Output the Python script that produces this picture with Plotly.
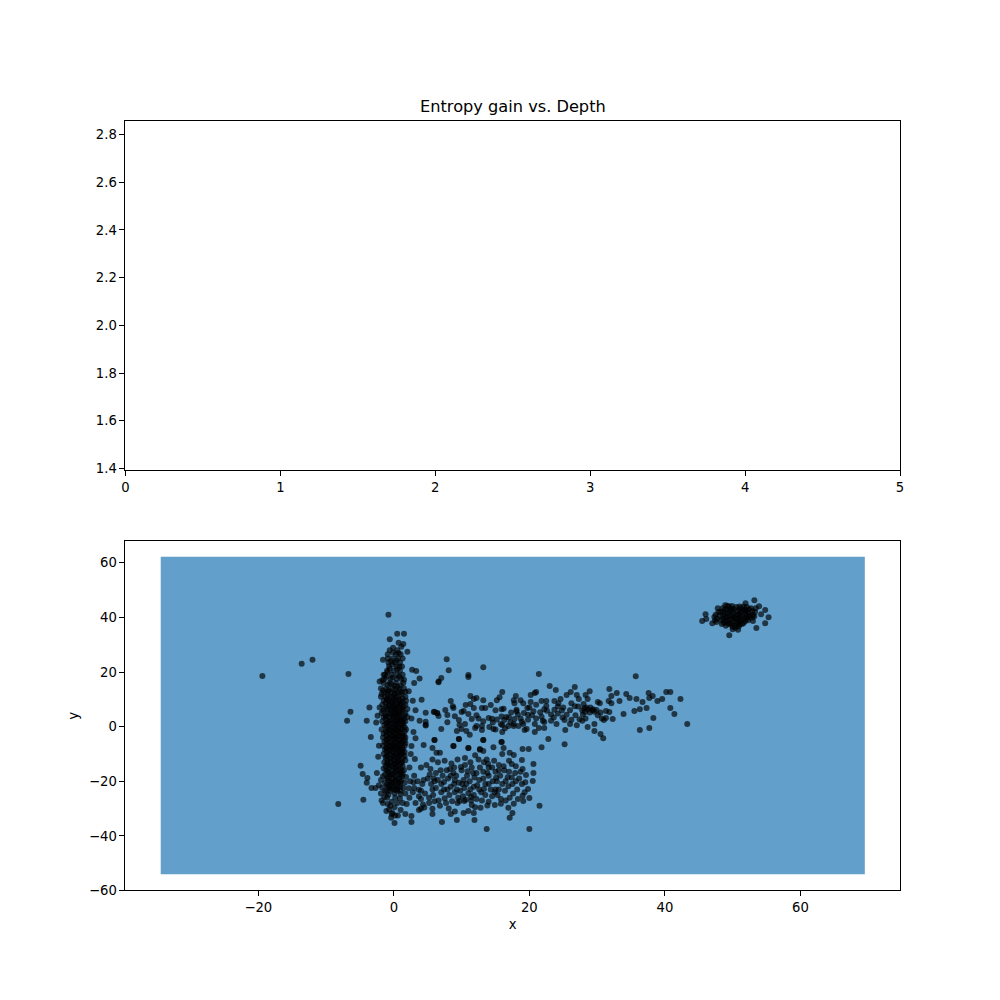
import plotly.graph_objects as go

title = "Entropy gain vs. Depth"
top_xticks = [0, 1, 2, 3, 4, 5]
top_yticks = [1.4, 1.6, 1.8, 2.0, 2.2, 2.4, 2.6, 2.8]
bot_xticks = [-20, 0, 20, 40, 60]
bot_yticks = [-60, -40, -20, 0, 20, 40, 60]
region_x = [-34.4, 69.5]
region_y = [-54.1, 62.2]

outliers = [(-19.4,18.6),(-13.6,23),(-12,24.5),(-6.7,19.3),(-0.8,41),(0.5,34),(1.5,34),(-0.6,32),(0.7,30.7),(1.4,30.3),
(1.1,29.3),(-0.1,28.9),(2,27.4),(-1.6,24.5),(2.7,20.8),(3.3,20.4),(3.8,17.6),(3,16),(4.1,9.9),(4.7,5.1),(6,5.5),(6.4,4.9),
(-6.4,5.5),(-6.9,2.2),(-3.6,7),(-4,2.2),(-2.4,4),(-2.6,1.5),(3.8,2.2),(4.7,1.8),(4.7,0.7),(6.6,16.5),(-2.1,16.5),(-1.5,19),
(-0.9,20),(-1.9,14),(-1.9,11),(2.2,13),(2.8,9.5),(3.2,6),(2.6,3),(-2.1,7),(-3.4,-3.8),(-4.9,-14.3),(-4.6,-17.3),(-3.9,-18.8),
(-4,-20.5),(-3.3,-22.5),(-2.7,-22.5),(-4.5,-26.8),(-8.2,-28.3),(3.2,-4.2),(2.6,-7.1),(3.1,-11.8),(4.7,0.4),(2.9,-2),(2.3,-15),
(-2.5,-17),(-2.3,-11),(-2.2,-7),(2.5,-10)]

column = [(-0.6,28),(0.5,28),(-0.9,26.5),(0.3,26.5),(1,26.5),(-0.9,25),(-0.2,25),(0.6,25),(1.3,25),(-0.8,23.5),(0.1,23.5),(0.9,23.5),
(-0.7,22),(0.4,22),(1.2,22),(-1,20.5),(0,20.5),(0.9,20.5),(-1.3,19),(-0.3,19),(0.5,19),(1.3,19),(-1.4,17.5),(-0.5,17.5),(0.4,17.5),(1.1,17.5),
(-1.5,16),(-0.6,16),(0.3,16),(1.4,16),(-1.1,14),(-0.2,14),(0.8,14),(1.5,14),(-1.4,12.5),(-0.5,12.5),(0.4,12.5),(1.2,12.5),
(-1.3,11),(-0.3,11),(0.6,11),(1.7,11),(-1.5,9.5),(-0.7,9.5),(0.2,9.5),(1,9.5),(1.8,9.5),(-1.7,8),(-0.8,8),(0,8),(0.9,8),(1.7,8),
(-1.4,6.5),(-0.5,6.5),(0.4,6.5),(1.3,6.5),(2,6.5),(-1.8,5),(-0.9,5),(0,5),(0.8,5),(1.7,5),(-1.5,3.5),(-0.6,3.5),(0.3,3.5),(1.2,3.5),(2,3.5),
(-1.7,2),(-0.8,2),(0.1,2),(0.9,2),(1.7,2),(-1.4,0.5),(-0.5,0.5),(0.4,0.5),(1.3,0.5),(-1.8,-1),(-0.8,-1),(0.1,-1),(1,-1),(1.8,-1),
(-1.5,-2.5),(-0.6,-2.5),(0.3,-2.5),(1.2,-2.5),(-1.6,-4),(-0.7,-4),(0.2,-4),(1.1,-4),(1.7,-4),(-1.4,-5.5),(-0.5,-5.5),(0.4,-5.5),(1.3,-5.5),
(-1.6,-7),(-0.8,-7),(0.1,-7),(0.9,-7),(1.6,-7),(-1.3,-8.5),(-0.4,-8.5),(0.5,-8.5),(1.3,-8.5),(-1.5,-10),(-0.6,-10),(0.2,-10),(1.1,-10),
(-1.2,-11.5),(-0.3,-11.5),(0.6,-11.5),(1.4,-11.5),(-1.4,-13),(-0.5,-13),(0.3,-13),(1.2,-13),(-1.2,-14.5),(-0.3,-14.5),(0.6,-14.5),(1.3,-14.5),
(-1.1,-16),(-0.2,-16),(0.7,-16),(1.5,-16),(-1.3,-17.5),(-0.4,-17.5),(0.5,-17.5),(1.3,-17.5),(-1,-19),(-0.1,-19),(0.8,-19),(-1.9,-19.5),
(-1.3,-20.5),(-0.3,-20.5),(0.6,-20.5),(1.6,-20.5),(-0.9,-22),(0,-22),(0.9,-22),(-2.2,-21.5),(-0.5,-23.5),(0.5,-23.5),(-1.3,-23.5),
(-1.6,-28),(-1.1,-30.9),(-0.9,-28.3),(0.2,-26),(1,-24.7),(0.1,-29.5),(-0.2,-31.6),(-0.3,-32),(0.6,-32.5),(0.1,-35.3),(-0.4,-33.4),(1.7,-32),(2.6,-32.7),(2.6,-34.9),
(1.3,-28),(1.9,-28.3),(0.2,-32.5),(-1,-26),(-0.3,-27.5),(1.7,-24.5),(2.3,-26),(2.8,-24),(3.2,-28),(3.7,-25.5),(4,-23.5)]

column_fill = [(-0.1,27.2),(0.7,27),(-0.4,24),(0.4,24.2),(-0.2,22.8),(0.8,22),(-0.6,21.2),(0.5,21),(-1.1,18.3),(-0.2,18),(0.8,18.4),(-1.7,17),(1.5,17.2),(-0.9,15.3),(0.1,15),(1,15.2),(-1.6,13.2),(-0.7,13.3),(0.2,13.6),(1.7,12.8),(-1.8,12),(-0.9,11.8),(0.1,11.9),(1,11.7),
(-1,10.3),(0,10.2),(1.3,10.3),(-1.2,8.8),(-0.3,8.7),(0.5,8.8),(1.3,8.9),(-1.1,7.3),(-0.2,7.2),(0.6,7.3),(1.4,7.4),(-1.6,5.8),(-0.4,5.9),(0.3,5.8),(1.2,5.9),(-1.2,4.2),(-0.2,4.2),(0.7,4.3),(1.6,4.2),(-1.2,2.8),(-0.2,2.7),(0.6,2.8),(1.5,2.8),
(-1.1,1.2),(-0.2,1.2),(0.6,1.3),(1.4,1.3),(-1.1,-0.3),(-0.2,-0.2),(0.7,-0.3),(1.6,-0.2),(-1.2,-1.8),(-0.2,-1.7),(0.7,-1.8),(1.6,-1.8),(-1.1,-3.3),(-0.2,-3.2),(0.7,-3.3),(1.5,-3.3),(-1.1,-4.8),(-0.1,-4.7),(0.8,-4.8),(1.6,-5),
(-1.1,-6.2),(-0.2,-6.3),(0.7,-6.3),(1.7,-6.1),(-1.1,-7.8),(-0.2,-7.7),(0.6,-7.8),(1.3,-7.8),(-1,-9.2),(-0.1,-9.3),(0.8,-9.2),(1.6,-9.3),(-1.1,-10.8),(-0.1,-10.7),(0.7,-10.8),(1.6,-10.7),(-0.9,-12.2),(0,-12.3),(0.9,-12.2),(1.7,-12.3),
(-0.9,-13.8),(0,-13.7),(0.9,-13.8),(-1.5,-15.3),(-0.7,-15.3),(0.2,-15.2),(1,-15.3),(-0.8,-16.8),(0.1,-16.7),(1,-16.8),(-1.6,-18.2),(-0.6,-18.2),(0.2,-18.3),(1.2,-18.2),(-0.7,-19.8),(0.2,-19.8),(1.1,-19.8),(-1,-21.2),(0,-21.2),(0.9,-21.3),(-0.3,-22.8),(0.5,-22.8),(-1.7,-22.4),(1.4,-22.5),
(-1.9,-24.5),(-0.8,-24.9),(0.1,-24.4),(0.9,-26.3),(-1.4,-25.8),(-0.5,-29),(0.5,-28),(1,-30.5),(-1.8,-27),(-0.7,-30.3)]

column_core = [(-0.4,15.6),(0.5,14.7),(-0.9,13),(0.1,12.2),(0.9,13),(-0.6,11),(0.3,10.6),(-1,9.8),(0.7,9.8),(-0.3,9.2),(0.9,8.4),(-0.7,7.7),(0.2,7.5),(1,6.9),(-0.9,6.2),(0.1,6.4),(0.9,5.4),(-0.5,4.7),(0.4,4.7),(-1.1,3.7),(0,3.9),(0.9,3.2),(-0.5,2.3),(0.4,2.2),(1.2,2.2),(-0.9,1.4),(0.2,0.9),(1,0.8),(-0.7,-0.1),(0.2,-0.6),(1.1,-0.6),(-0.6,-1.4),(0.4,-1.4),(-1,-2.2),(0,-2.2),(0.9,-2.2),(-0.4,-3.6),(0.5,-3.6),(1.3,-3.6),(-0.9,-4.4),(0.1,-4.3),(0.9,-5.2),(-0.7,-5.9),(0.2,-6),(1.1,-6),(-0.5,-7.3),(0.4,-7.3),(-1,-8),(0,-8),(0.9,-8.1),(-0.6,-9),(0.4,-9.6),(1.3,-9.6),(-0.9,-10.4),(0.1,-11),(0.9,-10.4),(-0.5,-12),(0.6,-12.6),(-1,-13.4),(0.2,-13.6),(1.1,-13.3),(-0.6,-14.2),(0.3,-14.9),(-0.9,-16.4),(0.4,-16.2),(1.2,-16.4),(-0.2,-17.4),(0.9,-17.9),(-0.9,-18.6),(0.3,-19.4),(-0.4,-20.2),(0.9,-20.2),(-0.6,-21.6),(0.4,-21.7),(-0.7,-22.6),(0.2,-23.1),(1,-23.5),(-1.1,-24)]

lower_band = [(3.7,-30.5),(4,-30.1),(4.5,-29.6),(5.7,-30.1),(5.7,-32),(7.1,-34.9),(8.4,-32),(9,-31.1),(9.3,-34.2),(10.3,-31.6),(11,-30.9),(11.8,-31.6),
(11.9,-34.2),(13.7,-37.5),(20,-37.5),(17.1,-33.4),(17.5,-31.6),(21.5,-29),(20,-26.1),(19,-25.3),(19.1,-27.2),(17.7,-28.2),(16.9,-29.7),(15.8,-28.2),
(14.9,-28.7),(13.8,-28.9),(12.8,-29.7),(11.5,-28.7),(10.4,-27.2),(9.7,-27.2),(4.4,-6.7),(6,-4.9),(5.7,-7.8),(6.3,-9.6),(6.8,-9.6),(8.8,-7.1),(9.6,-4.5),
(11,-7.8),(13.2,-4.9),(12.7,-8.5),(13.2,-8.9),(14.7,-7.5),(15.9,-5.6),(16.2,-7.8),(19,-8.2),(19.9,-8.2),(17.1,-9.6),(17.7,-10.4),(16,-10),(18.9,-12.2),
(17.4,-13.7),(20.6,-13.7),(20.6,-17),(20.5,-19.9),(19.8,-22.8),(19,-15.5),(19.5,-17.7),(5.7,-12),(4.8,-14),(4,-15),(5.4,-15.5),(6.5,-13),(7.5,-12.5),
(8.5,-13.5),(9.4,-12),(10.5,-11.5),(11.3,-13),(12,-10.5),(12.5,-12),(13.3,-13),(14,-15),(14.8,-12.5),(15.5,-14),(16.3,-16),(17,-12.5),(18,-14.5),
(3,-18),(3.5,-20),(4.2,-21),(5,-19),(5.5,-21),(6,-20),(6.5,-19.5),(7,-21),(7.2,-18),(7.8,-16),(8,-19),(8.4,-22),(8.9,-15),(9.2,-18),(9.6,-20.5),
(10,-16),(10.4,-22.5),(10.8,-18),(11.2,-20),(11.5,-15),(11.8,-22),(12.2,-17),(12.6,-19.5),(12.9,-24),(13.2,-16.5),(13.5,-21),(14,-18),(14.3,-23),
(14.6,-20),(15,-16.5),(15.3,-25),(15.7,-18),(16,-21),(16.4,-23.5),(16.8,-18.5),(17.1,-26),(17.5,-21),(17.9,-17),(18.2,-23),(18.5,-19),(18.9,-21),(19.3,-24),
(3,-22.5),(4,-26.5),(4.6,-24.5),(5.2,-26),(5.8,-25),(6.2,-22.5),(6.6,-27),(7,-24),(7.5,-26.2),(7.9,-23),(8.2,-25),(8.6,-27.3),(9,-24),(9.4,-28),(9.8,-23.5),
(10.2,-25.5),(10.6,-26.8),(11,-24.4),(11.4,-27),(11.8,-25),(12.2,-26.5),(12.6,-23),(13,-27),(13.5,-25),(14,-27.5),(14.5,-25.5),(15,-23),(15.8,-26.5),(16.5,-27),
(17.6,-24.5),(18.3,-26.5),(6.2,-17),(8.8,-17),(10.5,-14),(13.7,-12),(15.2,-20),(7.7,-28),(5.2,-28),(6.8,-29),(8.1,-30),(4.3,-28.5),(12,-29.5)]

lower_fill = [(4.4,-19.5),(5.3,-17.5),(5.9,-19),(6.9,-16),(7.4,-20.3),(8.3,-15.5),(9,-19.6),(9.3,-23),(9.9,-14.8),(10.3,-19.5),(10.7,-21),(11.3,-23),(11.7,-17),
(10.9,-16.3),(11.9,-18.6),(12.3,-21.5),(12.7,-15),(13.2,-19),(13.8,-17),(14,-21),(14.5,-15),(9.5,-26),(8.9,-21),(8.4,-18),(7.4,-23),(15.5,-16),(16.5,-20),(17,-16.5),(15.5,-23),(16.2,-14.5),(18,-20),(18.7,-16.5),(17.4,-18.6),(5.7,-23),(1.8,-18.4),(2.4,-20),(2.9,-20.4),(2.2,-22.6),(11.4,-25.8),(13.3,-22.8),(14.9,-24),(6,-27.3),(3.7,-23.1),(16.9,-21.8),(19.4,-20.4),(13.9,-13.6),(15.1,-18.7),(10.1,-21)]

upper_band = [(7.8,24.7),(8.1,20.7),(7,17.8),(6.6,16.3),(11,18.9),(11,18.2),(13.2,21.8),(21.4,19.3),(35.7,18.5),(23,14.9),(23.9,13.4),(26.7,14.5),(26.1,12.7),
(25.5,11.6),(31.8,13.8),(32.9,12.3),(32.1,11.2),(34.3,12),(34.8,10.5),(35.8,10.1),(36.7,9),(37.6,12.3),(38.2,11.2),(37.7,10.5),(38.9,9.4),(39.6,10.1),
(40.2,12.7),(40.8,12.7),(42.3,10.1),(40.8,6.8),(41.4,4.6),(43.3,1),(38.3,3.2),(37.7,-0.5),(36.3,-1.2),(37.3,6.8),(36.3,6.4),(35.5,5.7),(33.9,4.6),(33.3,9.4),
(32.1,8.6),(31.7,9.4),(32.3,2.8),(31,2.4),(31.3,3.2),(31.8,5.4),(31.3,5.7),(29.9,6.1),(29.4,6.4),(28.9,13),(28.3,11.6),(28.6,10.1),(28,8.3),(30.4,8.6),(30.1,9),
(29.6,1),(29.6,-1.6),(30.5,-2.7),(30.9,-4.2),(28.6,-0.1),(25.2,-6.4),(25.3,-1.2),(22.8,-4.5),(21.8,-7.5),(6,-4.9),(9.6,-4.5),(13.2,-4.9),(15.9,-5.6),(8.8,-7.1),
(11,-7.8),(12.7,-8.2),(5.9,5.4),(6.4,5),(6.6,3.9),(7.6,6.1),(7.9,4.3),(8.4,9.4),(8.7,7.5),(8.8,6.8),(7.9,1.6),(7,-0.9),(9.6,2.4),(9.7,0.6),(10,5.4),(10.3,5.7),
(10.6,7.9),(11.3,11.2),(11.8,10.1),(12.2,10.5),(13.2,9.7),(11.3,8.3),(11.8,6.8),(11,4.6),(11.5,2.8),(9.3,-1.6),(10,-0.9),(10.7,-1.6),(11.2,-3),(12.2,0.2),(13,0.2),
(13,-1.2),(14.1,-0.1),(14.7,-0.9),(16,-2),(16,0.6),(16.9,0.2),(17.7,0.2),(18.4,0.2),(19.3,-1.2),(19.6,-0.9),(20.8,-2),(21.4,-0.5),(22.2,-0.5),(20.8,1),(22.2,1.7),
(16,12.7),(15.6,10.8),(15.2,9.7),(14.3,7.9),(13.5,6.8),(13,6.8),(15,6),(15.9,6.4),(17.7,9.7),(18,11.2),(18.7,9.7),(20.2,11.6),(20.8,12.3),(21,12.7),(20.2,9),(21.8,9.4),
(22.5,9.4),(23.7,9.4),(24.6,10.1),(24.3,8.6),(26.2,8.6),(27.3,10.1),(27,11.6),(26.7,7.5),(17.8,8.6),(19.1,8.6),(21,8),(12.5,3),(13.2,2),(14,3.2),(14.6,1.5),(15.2,2.6),
(15.8,1),(16.3,2.4),(16.6,3.5),(17.2,1.6),(17.8,2.8),(18.3,4.5),(18.7,3),(19.2,5),(19.8,2.5),(20.4,4.2),(21,3),(21.6,5.3),(22,2.2),(22.6,5.8),(23.2,4.5),(23.7,6.2),
(24.2,4.8),(24.8,5.9),(25.2,2.4),(25.5,4.4),(26.2,2.5),(26.8,4.2),(27.4,2.7),(27.8,6),(28.2,5.4),(28.4,7),(28.9,5.2),(28.3,3),(29.3,6),(30.5,5.2),(30.7,3),
(18.1,6.2),(17.3,5.2),(16.2,6.6),(19.7,6.8),(22.2,6.4),(25,7),(26,6),(12.2,4.2),(10.5,1),(9,3.8),(12,-0.5),(27.8,2.2),(24,1),(23.2,2.2),(27,0.5),(26,1)]

upper_fill = [(14.5,2.9),(15,-1),(15.9,3.7),(16.4,-0.6),(17,3.4),(17.7,1),(18.1,5.6),(19.1,1),(20,7),(20.6,5.6),(21.8,3.6),(22.5,7.6),(23.6,3.4),(24.2,7.4),(24.9,3.4),(27.2,7.4),(27.9,4.5),(28.6,6.3),(29,7),(28.1,6.7),(29.6,5.5),(30.1,4.2),(19.8,4.4),(18.9,1.8)]

blob = [(53.2,46.3),(51.9,45.2),(48.9,44.5),(47.8,43.4),(46,41.2),(46.1,39.4),(45.5,38.7),(47,37.9),(49.5,33.5),(53.5,36.1),(54.8,37.9),(55.3,40.1),(54.8,42.7),
(53.9,44.1),(53.4,43.4),(54.2,41.2),(53,38.7),(50.8,35.5),(50,35.7),(47.5,41),(47.7,39.5),(47.6,38.3),(48.2,42),(48.1,40.5),(48.3,39),(48.4,37.6),(48.9,43),(48.8,41.4),
(48.9,40),(49,38.4),(49,37),(49.5,44),(49.6,42.3),(49.5,40.8),(49.6,39.3),(49.6,37.8),(50,36.6),(50.2,43),(50.1,41.5),(50.2,40),(50.1,38.5),(50.4,37),(50.7,42.3),
(50.8,40.8),(50.7,39.4),(50.8,37.8),(50.9,36.8),(51.2,43.5),(51.3,42),(51.3,40.5),(51.2,39),(51.4,37.6),(51.8,43),(51.8,41.4),(51.9,40),(51.8,38.5),(52.4,43),(52.3,41.7),
(52.4,40.3),(52.3,39),(52.9,42.4),(53,41),(52.9,40),(49.3,41.5),(50.4,39.6),(51,41.3),(49.9,42.7),(52,42.4),
(47.9,42),(48.5,43.4),(48.6,42.2),(48.6,40.7),(48.6,39.4),(48.7,38),(49.2,44.3),(49.2,42.9),(49.2,40.2),(49.2,39),(49.3,37.7),(49.9,44.2),(49.8,43.2),(49.9,40.7),(49.9,39.5),(49.8,37.4),(50.5,43.8),(50.5,41),(50.5,38.2),(50.4,36.2),(51,44),(51,42.7),(51,39.9),(51,38.4),(51,37.3),(51.6,44),(51.6,42.5),(51.6,39.6),(51.6,38),(52.1,43.8),(52.1,40.9),(52.1,39.4),(52.7,43.4),(52.6,40.7),(53.3,42),(53.2,40.4),(47.3,40.2),(47.4,39)]

clusters = [outliers, column, column_fill, column_core, lower_band, lower_fill, upper_band, upper_fill, blob]
point_x = [p[0] for c in clusters for p in c]
point_y = [p[1] for c in clusters for p in c]

FONT = "DejaVu Sans"
axis = dict(showgrid=False, zeroline=False, showline=True, linecolor="black", linewidth=1, mirror=True,
            ticks="outside", ticklen=5, tickwidth=1, tickcolor="black", tickfont=dict(family=FONT, size=13.2, color="black"))

fig = go.Figure()
fig.add_trace(go.Scatter(x=[], y=[], xaxis="x", yaxis="y", showlegend=False))
fig.add_trace(go.Scatter(x=point_x, y=point_y, xaxis="x2", yaxis="y2", mode="markers", showlegend=False,
                         marker=dict(size=6, color="rgba(0,0,0,0.66)", line=dict(width=0))))
fig.update_layout(
    width=1000, height=1000, autosize=False, margin=dict(l=0, r=0, t=0, b=0),
    paper_bgcolor="white", plot_bgcolor="white", showlegend=False,
    xaxis=dict(axis, domain=[0.1144, 0.8952], range=[0, 5], tickvals=top_xticks, ticktext=[str(v) for v in top_xticks], anchor="y"),
    yaxis=dict(axis, domain=[0.5338, 0.8861], range=[1.392, 2.8565], tickvals=top_yticks, ticktext=[f"{v:.1f}" for v in top_yticks], anchor="x"),
    xaxis2=dict(axis, domain=[0.1144, 0.8952], range=[-39.6, 74.7], tickvals=bot_xticks, ticktext=[str(v).replace("-", "\u2212") for v in bot_xticks], anchor="y2",
                title=dict(text="x", font=dict(family=FONT, size=13.2, color="black"), standoff=5)),
    yaxis2=dict(axis, domain=[0.1104, 0.4627], range=[-60, 68], tickvals=bot_yticks, ticktext=[str(v).replace("-", "\u2212") for v in bot_yticks], anchor="x2",
                title=dict(text="y", font=dict(family=FONT, size=13.2, color="black"), standoff=7)),
    shapes=[dict(type="rect", xref="x2", yref="y2", x0=region_x[0], x1=region_x[1], y0=region_y[0], y1=region_y[1],
                 fillcolor="#629fcb", line=dict(width=0), layer="below")],
    annotations=[dict(text=title, xref="paper", yref="paper", x=0.5048, y=0.8861, xanchor="center", yanchor="bottom", yshift=3,
                      showarrow=False, font=dict(family=FONT, size=16.2, color="black"))],
)
fig.write_html("out.html")
